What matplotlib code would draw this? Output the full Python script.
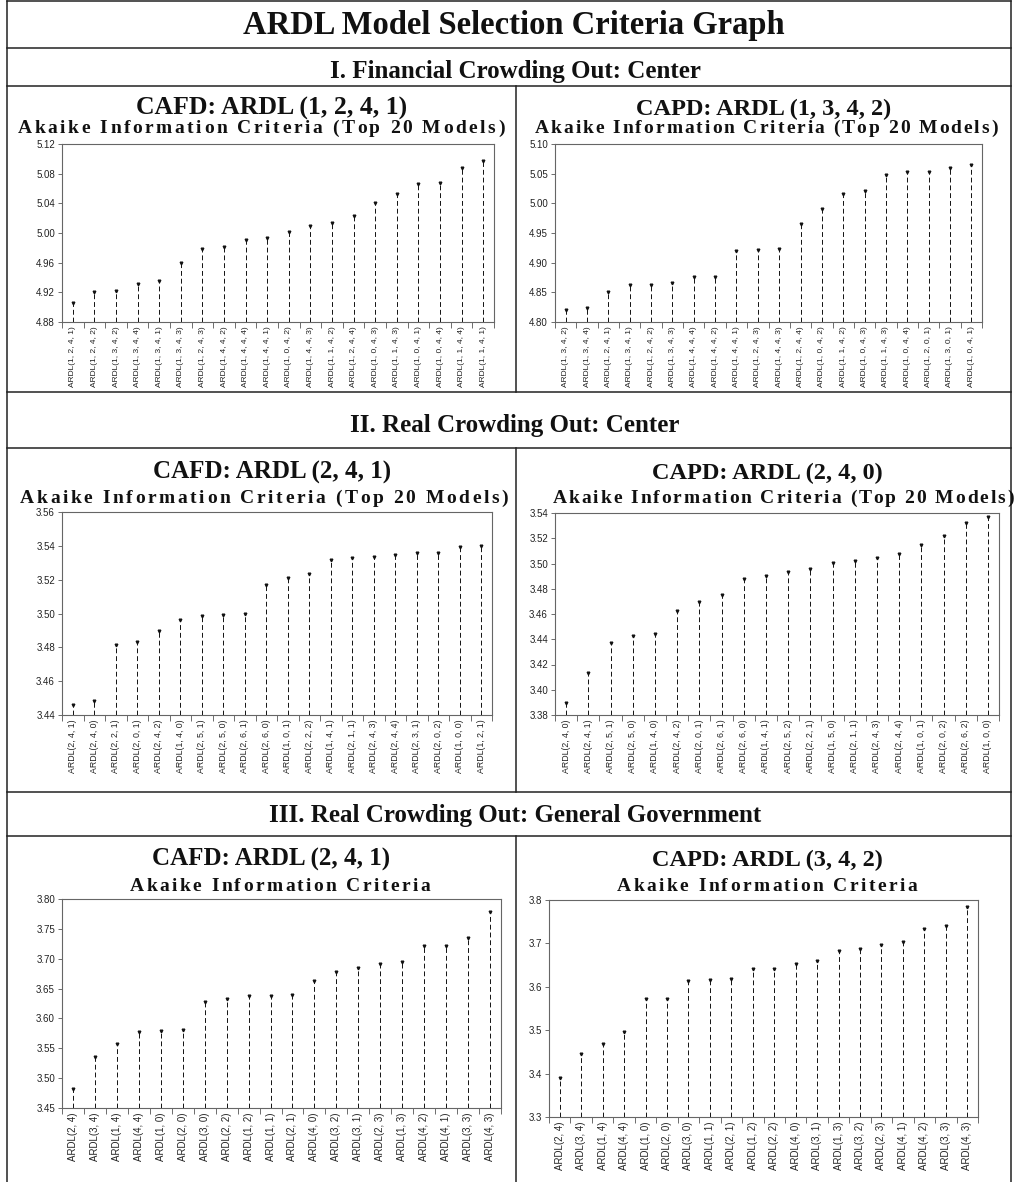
import numpy as np
import matplotlib
matplotlib.use("Agg")
import matplotlib.pyplot as plt
from matplotlib.lines import Line2D
from matplotlib.ticker import FormatStrFormatter
from matplotlib.font_manager import FontProperties, findfont
from matplotlib.ft2font import FT2Font

W, H = 1014, 1182

# I. Financial crowding out: center
fin_cafd_labels = ["ARDL(1, 2, 4, 1)", "ARDL(1, 2, 4, 2)", "ARDL(1, 3, 4, 2)", "ARDL(1, 3, 4, 4)",
                   "ARDL(1, 3, 4, 1)", "ARDL(1, 3, 4, 3)", "ARDL(1, 2, 4, 3)", "ARDL(1, 4, 4, 2)",
                   "ARDL(1, 4, 4, 4)", "ARDL(1, 4, 4, 1)", "ARDL(1, 0, 4, 2)", "ARDL(1, 4, 4, 3)",
                   "ARDL(1, 1, 4, 2)", "ARDL(1, 2, 4, 4)", "ARDL(1, 0, 4, 3)", "ARDL(1, 1, 4, 3)",
                   "ARDL(1, 0, 4, 1)", "ARDL(1, 0, 4, 4)", "ARDL(1, 1, 4, 4)", "ARDL(1, 1, 4, 1)"]
fin_cafd_aic = [4.905, 4.921, 4.922, 4.931, 4.935, 4.959, 4.979, 4.981, 4.990, 4.993,
                5.002, 5.009, 5.014, 5.023, 5.041, 5.053, 5.066, 5.067, 5.088, 5.097]

fin_capd_labels = ["ARDL(1, 3, 4, 2)", "ARDL(1, 3, 4, 4)", "ARDL(1, 2, 4, 1)", "ARDL(1, 3, 4, 1)",
                   "ARDL(1, 2, 4, 2)", "ARDL(1, 3, 4, 3)", "ARDL(1, 4, 4, 4)", "ARDL(1, 4, 4, 2)",
                   "ARDL(1, 4, 4, 1)", "ARDL(1, 2, 4, 3)", "ARDL(1, 4, 4, 3)", "ARDL(1, 2, 4, 4)",
                   "ARDL(1, 0, 4, 2)", "ARDL(1, 1, 4, 2)", "ARDL(1, 0, 4, 3)", "ARDL(1, 1, 4, 3)",
                   "ARDL(1, 0, 4, 4)", "ARDL(1, 2, 0, 1)", "ARDL(1, 3, 0, 1)", "ARDL(1, 0, 4, 1)"]
fin_capd_aic = [4.821, 4.823, 4.851, 4.862, 4.862, 4.865, 4.875, 4.876, 4.919, 4.922,
                4.923, 4.966, 4.990, 5.016, 5.021, 5.048, 5.052, 5.052, 5.060, 5.064]

# II. Real crowding out: center
real_cafd_labels = ["ARDL(2, 4, 1)", "ARDL(2, 4, 0)", "ARDL(2, 2, 1)", "ARDL(2, 0, 1)", "ARDL(2, 4, 2)",
                    "ARDL(1, 4, 0)", "ARDL(2, 5, 1)", "ARDL(2, 5, 0)", "ARDL(2, 6, 1)", "ARDL(2, 6, 0)",
                    "ARDL(1, 0, 1)", "ARDL(2, 2, 2)", "ARDL(1, 4, 1)", "ARDL(2, 1, 1)", "ARDL(2, 4, 3)",
                    "ARDL(2, 4, 4)", "ARDL(2, 3, 1)", "ARDL(2, 0, 2)", "ARDL(1, 0, 0)", "ARDL(1, 2, 1)"]
real_cafd_aic = [3.4459, 3.4482, 3.4816, 3.4830, 3.4899, 3.4963, 3.4985, 3.4994, 3.5000, 3.5169,
                 3.5212, 3.5231, 3.5315, 3.5329, 3.5333, 3.5345, 3.5359, 3.5360, 3.5394, 3.5398]

real_capd_labels = ["ARDL(2, 4, 0)", "ARDL(2, 4, 1)", "ARDL(2, 5, 1)", "ARDL(2, 5, 0)", "ARDL(1, 4, 0)",
                    "ARDL(2, 4, 2)", "ARDL(2, 0, 1)", "ARDL(2, 6, 1)", "ARDL(2, 6, 0)", "ARDL(1, 4, 1)",
                    "ARDL(2, 5, 2)", "ARDL(2, 2, 1)", "ARDL(1, 5, 0)", "ARDL(2, 1, 1)", "ARDL(2, 4, 3)",
                    "ARDL(2, 4, 4)", "ARDL(1, 0, 1)", "ARDL(2, 0, 2)", "ARDL(2, 6, 2)", "ARDL(1, 0, 0)"]
real_capd_aic = [3.3898, 3.4130, 3.4373, 3.4429, 3.4439, 3.4624, 3.4696, 3.4750, 3.4875, 3.4901,
                 3.4935, 3.4960, 3.5005, 3.5021, 3.5043, 3.5077, 3.5147, 3.5219, 3.5317, 3.5365]

# III. Real crowding out: general government
gg_cafd_labels = ["ARDL(2, 4)", "ARDL(3, 4)", "ARDL(1, 4)", "ARDL(4, 4)", "ARDL(1, 0)",
                  "ARDL(2, 0)", "ARDL(3, 0)", "ARDL(2, 2)", "ARDL(1, 2)", "ARDL(1, 1)",
                  "ARDL(2, 1)", "ARDL(4, 0)", "ARDL(3, 2)", "ARDL(3, 1)", "ARDL(2, 3)",
                  "ARDL(1, 3)", "ARDL(4, 2)", "ARDL(4, 1)", "ARDL(3, 3)", "ARDL(4, 3)"]
gg_cafd_aic = [3.481, 3.535, 3.557, 3.577, 3.579, 3.580, 3.627, 3.633, 3.637, 3.637,
               3.639, 3.663, 3.677, 3.685, 3.691, 3.694, 3.721, 3.722, 3.735, 3.778]

gg_capd_labels = ["ARDL(2, 4)", "ARDL(3, 4)", "ARDL(1, 4)", "ARDL(4, 4)", "ARDL(1, 0)",
                  "ARDL(2, 0)", "ARDL(3, 0)", "ARDL(1, 1)", "ARDL(2, 1)", "ARDL(1, 2)",
                  "ARDL(2, 2)", "ARDL(4, 0)", "ARDL(3, 1)", "ARDL(1, 3)", "ARDL(3, 2)",
                  "ARDL(2, 3)", "ARDL(4, 1)", "ARDL(4, 2)", "ARDL(3, 3)", "ARDL(4, 3)"]
gg_capd_aic = [3.389, 3.445, 3.469, 3.497, 3.571, 3.571, 3.613, 3.615, 3.617, 3.642,
               3.642, 3.652, 3.659, 3.682, 3.686, 3.697, 3.703, 3.733, 3.741, 3.785]

plt.rcParams['font.family'] = ['Liberation Sans', 'DejaVu Sans']
fig = plt.figure(figsize=(W / 100, H / 100), dpi=100)
fig.patch.set_facecolor('white')


def fx(x):
    return x / W


def fy(y):
    return 1 - y / H


def hline(y, x0, x1):
    fig.add_artist(Line2D([fx(x0), fx(x1)], [fy(y), fy(y)], color='#222222', lw=1.1))


def vline(x, y0, y1):
    fig.add_artist(Line2D([fx(x), fx(x)], [fy(y0), fy(y1)], color='#222222', lw=1.1))


SERIF_B = FontProperties(family='Liberation Serif', weight='bold')


def serif_text(xc, y, s, size):
    fig.text(fx(xc), fy(y), s, fontproperties=SERIF_B, fontsize=size,
             ha='center', va='baseline', color='#111111')


def spaced_text(xc, y, s, size, width):
    # letter-spaced bold serif line, stretched to the given pixel width
    prop = FontProperties(family='Liberation Serif', weight='bold', size=size)
    font = FT2Font(findfont(prop))
    font.set_size(size, 100)
    adv = [font.load_char(ord(ch)).linearHoriAdvance / 65536 for ch in s]
    gap = (width - sum(adv)) / (len(s) - 1)
    x = xc - width / 2
    for ch, a in zip(s, adv):
        fig.text(fx(x), fy(y), ch, fontproperties=prop, ha='left', va='baseline', color='#111111')
        x += a + gap


def stem_panel(rect, labels, values, ylo, yhi, step, fmt, xmax, lab_size, tick_size):
    x0, y0, x1, y1 = rect
    ax = fig.add_axes([fx(x0), fy(y1), (x1 - x0) / W, (y1 - y0) / H])
    pos = np.arange(len(values))
    ax.vlines(pos, ylo, values, colors='#111111', linewidth=0.7, linestyles=(0, (5, 3)))
    ax.plot(pos, values, 'v', ms=1.9, color='#111111')
    ax.set_xlim(-0.5, xmax)
    ax.set_ylim(ylo, yhi)
    n = int(round((yhi - ylo) / step))
    ax.set_yticks(np.linspace(ylo, yhi, n + 1))
    ax.yaxis.set_major_formatter(FormatStrFormatter(fmt))
    ax.set_xticks(pos)
    ax.set_xticklabels(labels, rotation=90, fontsize=lab_size, color='#222222')
    ax.set_xticks(np.arange(-0.5, len(values), 1), minor=True)
    ax.tick_params(axis='x', which='major', length=0, pad=3)
    ax.tick_params(axis='x', which='minor', length=4, width=0.6, color='#555555', direction='out')
    ax.tick_params(axis='y', length=3, width=0.6, color='#555555', pad=2,
                   labelsize=tick_size, labelcolor='#222222')
    for sp in ax.spines.values():
        sp.set_color('#666666')
        sp.set_linewidth(0.8)
    return ax


# frame of the table
hline(1, 7, 1011)
vline(7, 1, 1182)
vline(1011, 1, 1182)
for yy in [48, 86, 392, 448, 792, 836]:
    hline(yy, 7, 1011)
vline(516, 86, 392)
vline(516, 448, 792)
vline(516, 836, 1182)

serif_text(514, 34, "ARDL Model Selection Criteria Graph", 23.5)
serif_text(515, 78, "I. Financial Crowding Out: Center", 18)
serif_text(515, 432, "II. Real Crowding Out: Center", 18)
serif_text(515, 822, "III. Real Crowding Out: General Government", 18)

# subtitles
serif_text(272, 115, "CAFD: ARDL (1, 2, 4, 1)", 18.5)
spaced_text(261, 133, "Akaike Information Criteria (Top 20 Models)", 14, 487)
serif_text(764, 115, "CAPD: ARDL (1, 3, 4, 2)", 17.5)
spaced_text(766, 133, "Akaike Information Criteria (Top 20 Models)", 14, 463)

serif_text(272, 479, "CAFD: ARDL (2, 4, 1)", 18)
spaced_text(264, 503, "Akaike Information Criteria (Top 20 Models)", 14, 488)
serif_text(767, 479, "CAPD: ARDL (2, 4, 0)", 17.5)
spaced_text(783, 503, "Akaike Information Criteria (Top 20 Models)", 14, 461)

serif_text(271, 866, "CAFD: ARDL (2, 4, 1)", 18)
spaced_text(280, 891, "Akaike Information Criteria", 14, 300)
serif_text(767, 866, "CAPD: ARDL (3, 4, 2)", 17.5)
spaced_text(767, 891, "Akaike Information Criteria", 14, 300)

# panels
stem_panel((62, 144, 494, 322), fin_cafd_labels, fin_cafd_aic, 4.88, 5.12, 0.04, '%.2f', 19.06, 6, 7)
stem_panel((555, 144, 982, 322), fin_capd_labels, fin_capd_aic, 4.80, 5.10, 0.05, '%.2f', 19.5, 6, 7)
stem_panel((62, 512, 492, 715), real_cafd_labels, real_cafd_aic, 3.44, 3.56, 0.02, '%.2f', 19.5, 6.3, 7)
stem_panel((555, 513, 999, 715), real_capd_labels, real_capd_aic, 3.38, 3.54, 0.02, '%.2f', 19.5, 6.3, 7)
stem_panel((62, 899, 501, 1108), gg_cafd_labels, gg_cafd_aic, 3.45, 3.80, 0.05, '%.2f', 19.5, 7, 7)
stem_panel((549, 900, 978, 1117), gg_capd_labels, gg_capd_aic, 3.3, 3.8, 0.1, '%.1f', 19.5, 7, 7)

fig.savefig("out.png", dpi=100)
